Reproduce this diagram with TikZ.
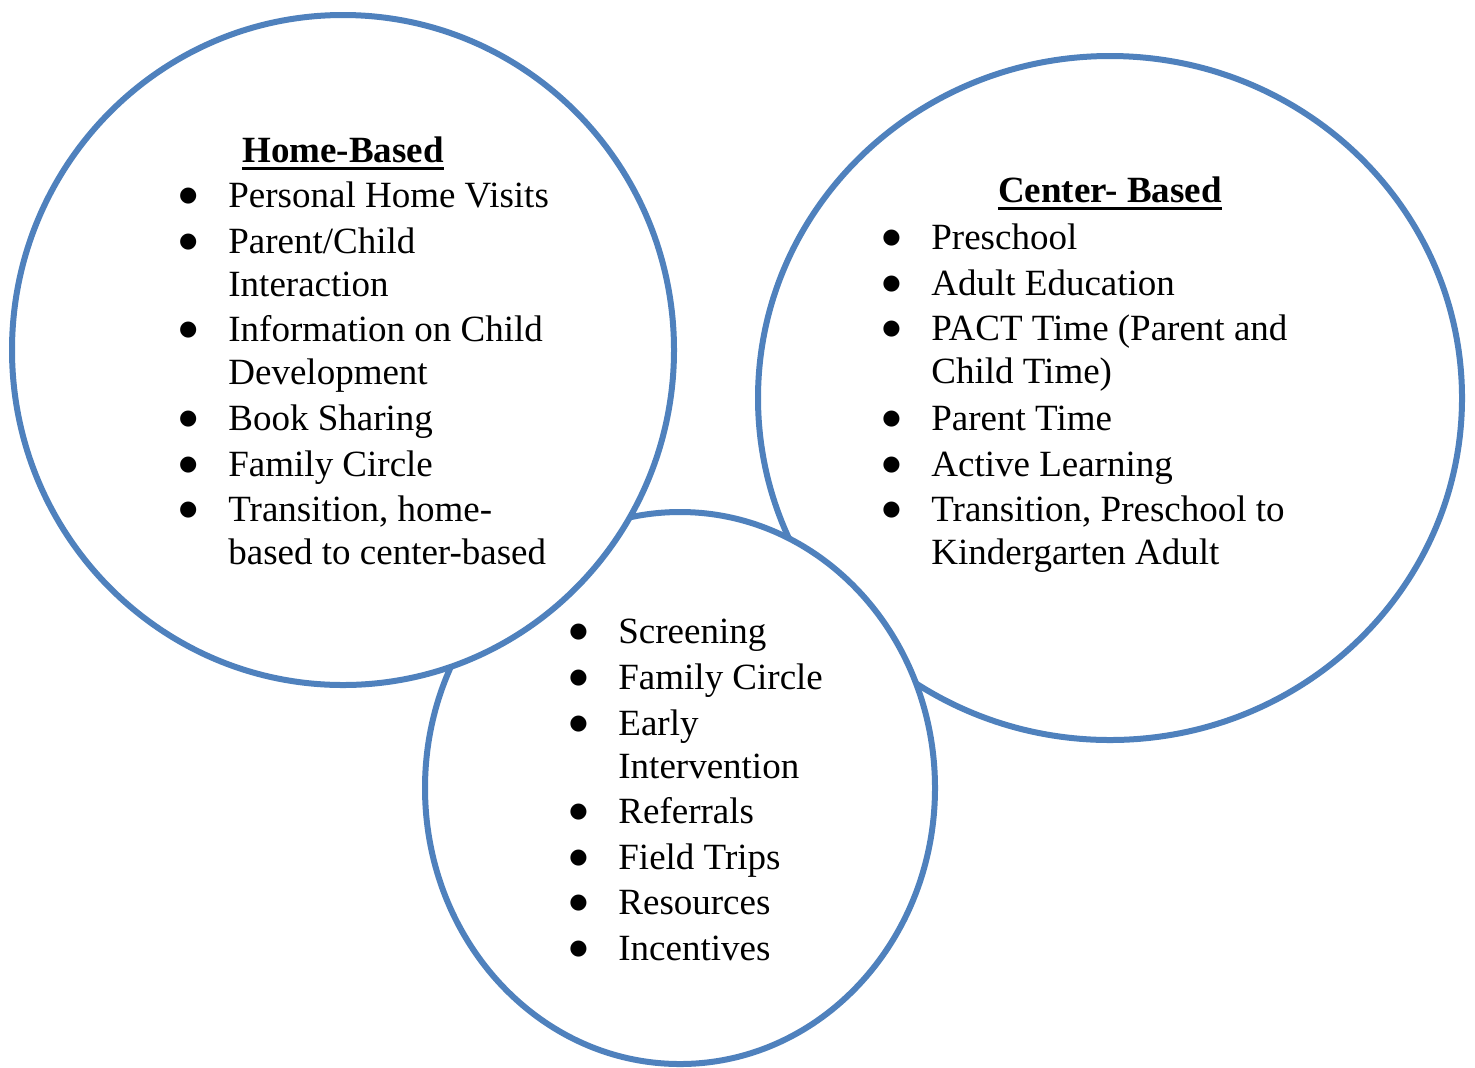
\documentclass[tikz,border=0pt]{standalone}
\usepackage{fontspec}
\setmainfont{Liberation Serif}
\newfontfamily\markfont{DejaVu Sans}
\usetikzlibrary{shapes.geometric}
\definecolor{ringblue}{HTML}{4F81BD}

% a heavier list bullet: the black circle of DejaVu Sans at a small size
\newcommand\bigbullet{\raisebox{3pt}{\markfont\fontsize{10.5pt}{10.5pt}\selectfont ●}}
% bullet hung 20pt left of the text, continuation lines aligned with the text
\newcommand\bulletitem[1]{\llap{\makebox[0pt]{\bigbullet}\hspace{20pt}}\parbox[t]{200pt}{#1}}

\begin{document}
\begin{tikzpicture}[x=0.5pt,y=-0.5pt,
  ring/.style={draw=ringblue, line width=3pt, fill=white, ellipse, inner sep=0pt},
  listitem/.style={anchor=base west, inner sep=0pt, font=\fontsize{18.5pt}{21.5pt}\selectfont},
  heading/.style={anchor=base, inner sep=0pt, font=\fontsize{18.5pt}{21.5pt}\selectfont\bfseries},
  uline/.style={line width=1.6pt, black}]
\useasboundingbox (0,0) rectangle (1475,1067);

% three program areas, back to front
\node[ring, minimum width=352pt, minimum height=342pt] (center) at (1110,398) {};
\node[ring, minimum width=255pt, minimum height=276pt] (shared) at (680,788) {};
\node[ring, minimum width=331pt, minimum height=335pt] (home)   at (343,350) {};

% home-based services
\node[heading] (hometitle) at (343,162) {Home-Based};
\draw[uline] ([yshift=-3.2pt]hometitle.base west) -- ([yshift=-3.2pt]hometitle.base east);
\node[listitem] (h1) at (228,207) {\bulletitem{Personal Home Visits}};
\node[listitem] (h2) at (228,253) {\bulletitem{Parent/Child\\Interaction}};
\node[listitem] (h3) at (228,341) {\bulletitem{Information on Child\\Development}};
\node[listitem] (h4) at (228,430) {\bulletitem{Book Sharing}};
\node[listitem] (h5) at (228,476) {\bulletitem{Family Circle}};
\node[listitem] (h6) at (228,521) {\bulletitem{Transition, home-\\based to center-based}};

% center-based services
\node[heading] (centertitle) at (1110,202) {Center- Based};
\draw[uline] ([yshift=-3.2pt]centertitle.base west) -- ([yshift=-3.2pt]centertitle.base east);
\node[listitem] (c1) at (931,249) {\bulletitem{Preschool}};
\node[listitem] (c2) at (931,295) {\bulletitem{Adult Education}};
\node[listitem] (c3) at (931,340) {\bulletitem{PACT Time (Parent and\\Child Time)}};
\node[listitem] (c4) at (931,430) {\bulletitem{Parent Time}};
\node[listitem] (c5) at (931,476) {\bulletitem{Active Learning}};
\node[listitem] (c6) at (931,521) {\bulletitem{Transition, Preschool to\\Kindergarten Adult}};

% services common to both
\node[listitem] (s1) at (618,643) {\bulletitem{Screening}};
\node[listitem] (s2) at (618,689) {\bulletitem{Family Circle}};
\node[listitem] (s3) at (618,735) {\bulletitem{Early\\Intervention}};
\node[listitem] (s4) at (618,823) {\bulletitem{Referrals}};
\node[listitem] (s5) at (618,869) {\bulletitem{Field Trips}};
\node[listitem] (s6) at (618,914) {\bulletitem{Resources}};
\node[listitem] (s7) at (618,960) {\bulletitem{Incentives}};
\end{tikzpicture}
\end{document}
